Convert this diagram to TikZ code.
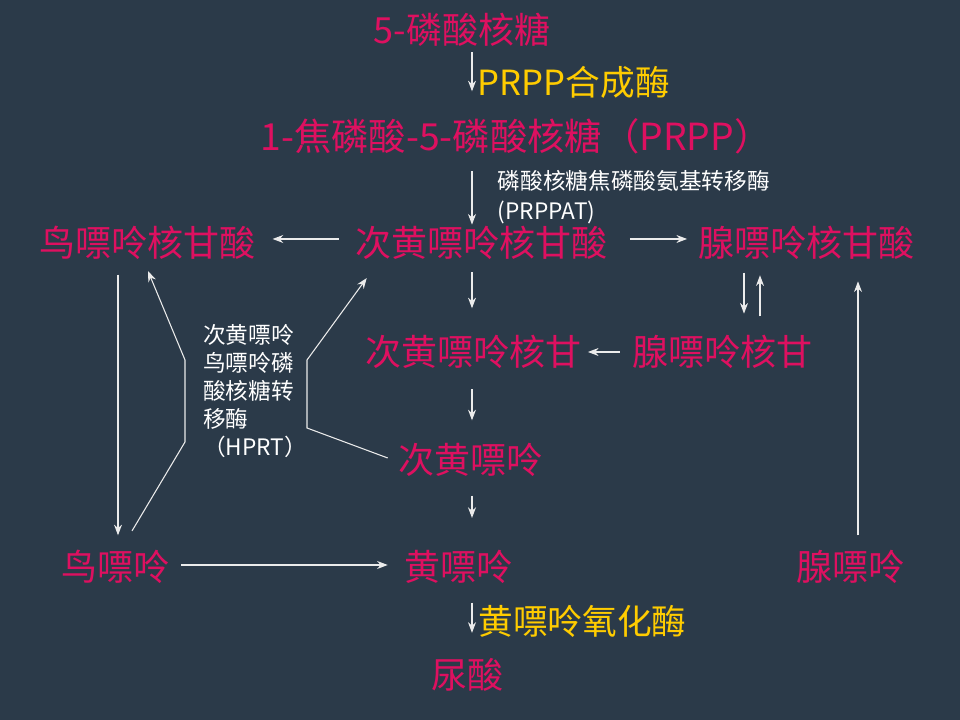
\documentclass[tikz,border=0pt]{standalone}
\usepackage{fontspec}
\setmainfont{Noto Sans CJK SC}
\usetikzlibrary{arrows.meta,positioning,calc}
\definecolor{slatebg}{RGB}{43,58,73}
\definecolor{purinred}{RGB}{222,16,96}
\definecolor{enzyellow}{RGB}{255,204,0}
\definecolor{arrowgray}{RGB}{235,235,235}

\begin{document}
\begin{tikzpicture}[x=0.75pt, y=0.75pt,
            cpd/.style={text=purinred, inner sep=0pt, font=\fontsize{27}{30}\selectfont},
            enzyme/.style={text=enzyellow, inner sep=0pt, font=\fontsize{26}{30}\selectfont},
            note/.style={text=white, inner sep=0pt, align=left, font=\fontsize{17}{21}\selectfont},
            arrow/.style={-{Stealth[length=8pt, width=6pt]}, line width=0.8pt, arrowgray}
        ]
        \fill[slatebg] (0,0) rectangle (960,720);
        \useasboundingbox (0,0) rectangle (960,720);
        \coordinate (axis) at (472,0);

        \node[cpd] (ribose) at (462,690) {5-磷酸核糖};
        \node[cpd, font=\fontsize{28}{30}\selectfont] (prpp) at (516,584) {1-焦磷酸-5-磷酸核糖（PRPP）};
        \node[cpd] (imp) at (481,477) {次黄嘌呤核甘酸};
        \node[cpd] (gmp) at (147,477) {鸟嘌呤核甘酸};
        \node[cpd] (amp) at (806,477) {腺嘌呤核甘酸};
        \node[cpd] (hr) at (473,368) {次黄嘌呤核甘};
        \node[cpd] (ar) at (722,368) {腺嘌呤核甘};
        \node[cpd] (hx) at (470,260) {次黄嘌呤};
        \node[cpd] (gua) at (115,153) {鸟嘌呤};
        \node[cpd] (xan) at (458,153) {黄嘌呤};
        \node[cpd] (ade) at (850,153) {腺嘌呤};
        \node[cpd] (uric) at (467,45) {尿酸};
        \node[note, anchor=west] (hprt) at (203,329) {次黄嘌呤\\鸟嘌呤磷\\酸核糖转\\移酶\\（HPRT）};

        % main column
        \draw[arrow, shorten <=4, shorten >=20] (ribose.south -| axis) -- node[midway, anchor=west, xshift=4pt, enzyme] {PRPP合成酶} (prpp.north -| axis);
        \draw[arrow, shorten <=13, shorten >=1] (prpp.south -| axis) -- node[pos=0.6, anchor=west, xshift=19pt, note, font=\fontsize{17}{22}\selectfont] {磷酸核糖焦磷酸氨基转移酶\\(PRPPAT)} (imp.north -| axis);
        \draw[arrow, shorten <=9, shorten >=20] (imp.south -| axis) -- (hr.north -| axis);
        \draw[arrow, shorten <=15, shorten >=17] (hr.south -| axis) -- (hx.north -| axis);
        \draw[arrow, shorten <=14, shorten >=24] (hx.south -| axis) -- (xan.north -| axis);
        \draw[arrow, shorten <=14, shorten >=19] (xan.south -| axis) -- node[midway, anchor=west, xshift=4.5pt, enzyme] {黄嘌呤氧化酶} (uric.north -| axis);

        \draw[arrow, shorten <=12, shorten >=13] ($(imp.west)+(0,4)$) -- ($(gmp.east)+(0,4)$);
        \draw[arrow, shorten <=17, shorten >=8] ($(imp.east)+(0,4)$) -- ($(amp.west)+(0,4)$);
        \draw[arrow, shorten <=11, shorten >=16] ($(ar.north)+(22,77)$) -- ($(ar.north)+(22,0)$);
        \draw[arrow, shorten <=14, shorten >=13] ($(ar.north)+(38,0)$) -- ($(ar.north)+(38,77)$);
        \draw[arrow, shorten <=9, shorten >=5] (ar.west) -- (hr.east);

        \draw[arrow, shorten <=11, shorten >=11] ($(gmp.south -| gua.north)+(3,0)$) -- ($(gua.north)+(3,0)$);
        \draw[arrow, shorten <=9, shorten >=12] ($(gua.east)+(0,2)$) -- ($(xan.west)+(0,2)$);
        \draw[arrow, shorten <=11, shorten >=16] ($(ade.north)+(8,0)$) -- ($(amp.south -| ade.north)+(8,0)$);

        % HPRT
        \draw[arrow] ($(gua.north)+(17,19)$) -- ($(hprt.west)+(-18,-51)$) -- ($(hprt.west)+(-18,31)$) -- ($(gmp.south)+(1,-11)$);
        \draw[arrow] ($(hx.west)+(-10,2)$) -- ($(hprt.west)+(104,-37)$) -- ($(hprt.west)+(104,31)$) -- ($(imp.south west)+(12,-18)$);
\end{tikzpicture}
\end{document}
